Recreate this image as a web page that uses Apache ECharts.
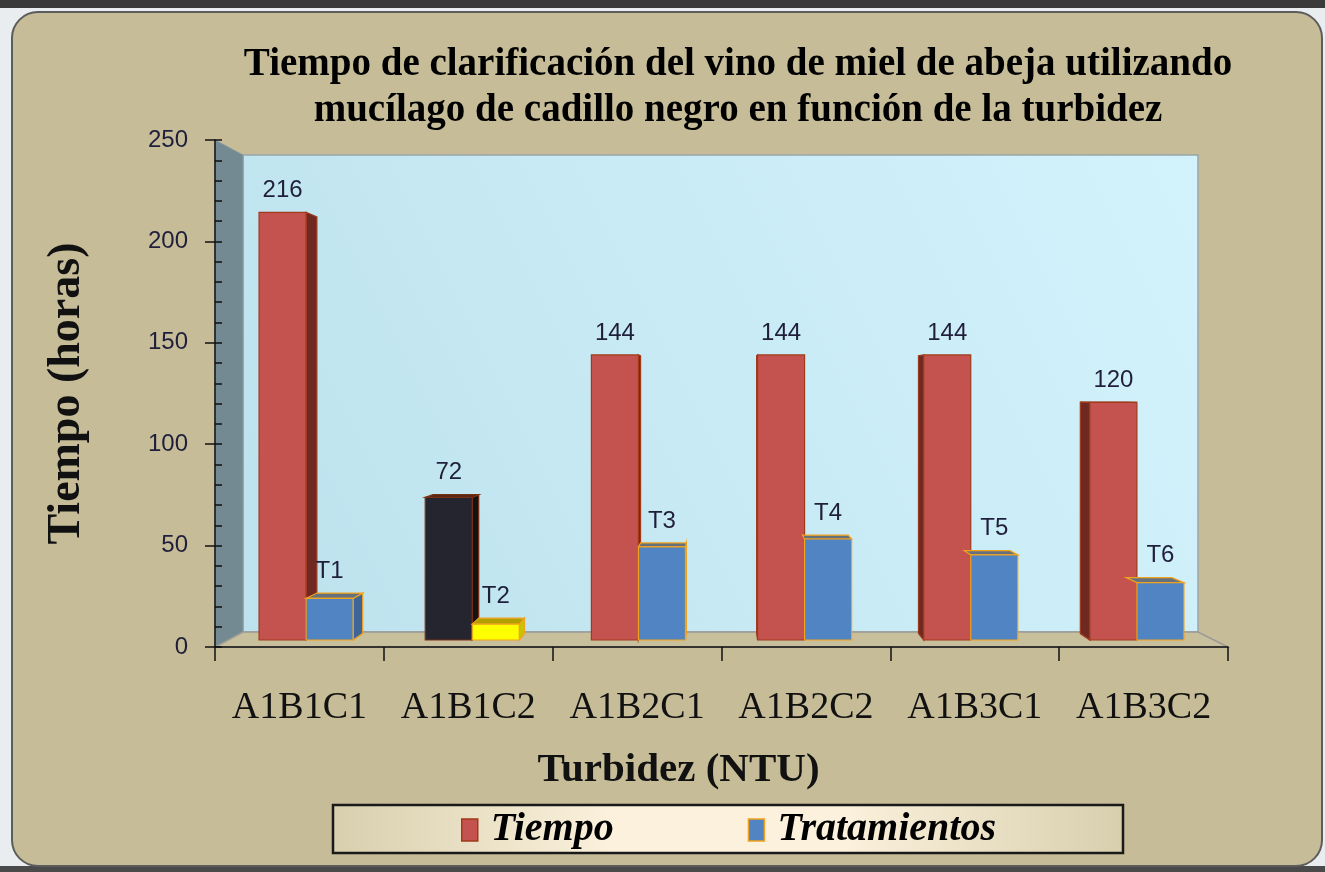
<!DOCTYPE html>
<html>
<head>
<meta charset="utf-8">
<script src="https://cdn.jsdelivr.net/npm/echarts@6/dist/echarts.min.js"></script>
<style>
  html, body { margin: 0; padding: 0; background: #e9edef; }
  #grafico { width: 1325px; height: 872px; }
</style>
</head>
<body>
<div id="grafico"></div>
<script>
// datos
const categorias = ['A1B1C1', 'A1B1C2', 'A1B2C1', 'A1B2C2', 'A1B3C1', 'A1B3C2']
const tiempo = [216, 72, 144, 144, 144, 120]
const tratamientos = [21, 8, 47, 51, 43, 29]
const etiquetasTrat = ['T1', 'T2', 'T3', 'T4', 'T5', 'T6']
const ejeY = { min: 0, max: 250, interval: 50 }

// colores de las caras (frente, lado, tapa, borde)
const colTiempo = { front: '#c4524e', side: '#6e2a22', top: '#8a3424', border: '#a03a1a' }
const colTiempoEsp = { front: '#25252f', side: '#121218', top: '#4a2418', border: '#7a3010' }
const colTrat = { front: '#5084c2', side: '#3e6596', top: '#66717e', border: '#f2a21c' }
const colTratEsp = { front: '#ffff00', side: '#c9c400', top: '#b0a000', border: '#f2a21c' }
const indiceEsp = 1

const serif = '"Liberation Serif", "Times New Roman", serif'
const sans = '"Liberation Sans", Arial, sans-serif'

const chart = echarts.init(document.getElementById('grafico'))

// barra en 3D con perspectiva hacia el centro del area
const renderBarra = (params, api) => {
  const i = api.value(0)
  const v = api.value(1)
  const esTiempo = params.seriesName === 'Tiempo'
  const base = api.coord([i, 0])
  const tope = api.coord([i, v])
  const banda = api.size([1, 0])[0]
  const w = banda * 0.283
  const cs = params.coordSys
  const vx = cs.x + cs.width / 2
  const vy = cs.y + cs.height / 2
  const k = 0.026
  const bx = (x) => x + (vx - x) * k
  const by = (y) => y + (vy - y) * k
  const x0 = esTiempo ? base[0] - w : base[0]
  const x1 = x0 + w
  const yT = tope[1]
  const yB = base[1]
  let c
  if (esTiempo) c = i === indiceEsp ? colTiempoEsp : colTiempo
  else c = i === indiceEsp ? colTratEsp : colTrat

  const hijos = []
  const borde = { stroke: c.border, lineWidth: 1.2 }
  if (x1 < vx) {
    hijos.push({ type: 'polygon', shape: { points: [[x1, yT], [bx(x1), by(yT)], [bx(x1), by(yB)], [x1, yB]] },
      style: Object.assign({ fill: c.side }, borde) })
  }
  if (esTiempo && x0 > vx) {
    hijos.push({ type: 'polygon', shape: { points: [[x0, yT], [bx(x0), by(yT)], [bx(x0), by(yB)], [x0, yB]] },
      style: Object.assign({ fill: c.side }, borde) })
  }
  if (yT > vy) {
    hijos.push({ type: 'polygon', shape: { points: [[x0, yT], [x1, yT], [bx(x1), by(yT)], [bx(x0), by(yT)]] },
      style: Object.assign({ fill: c.top }, borde) })
  }
  hijos.push({ type: 'rect', shape: { x: x0, y: yT, width: w, height: yB - yT },
    style: Object.assign({ fill: c.front }, borde) })
  hijos.push({ type: 'text', x: (x0 + x1) / 2, y: Math.min(yT, by(yT)) - 10,
    style: { text: esTiempo ? String(v) : etiquetasTrat[i], align: 'center', verticalAlign: 'bottom',
      font: '24px ' + sans, fill: '#1f1f3c' } })
  return { type: 'group', children: hijos }
}

chart.setOption({
  animation: false,
  backgroundColor: '#e9edef',
  title: {
    text: 'Tiempo de clarificación del vino de miel de abeja utilizando\nmucílago de cadillo negro en función de la turbidez',
    left: 738,
    top: 42,
    padding: 0,
    textAlign: 'center',
    textStyle: { fontFamily: serif, fontWeight: 'bold', fontSize: 39, lineHeight: 46, color: '#000' }
  },
  graphic: [
    { type: 'rect', z: -20, shape: { x: 0, y: 0, width: 1325, height: 8 }, style: { fill: '#3a3a3a' } },
    { type: 'rect', z: -20, shape: { x: 0, y: 866, width: 1325, height: 6 }, style: { fill: '#4a4a4a' } },
    { type: 'rect', z: -19, shape: { x: 12, y: 12, width: 1310, height: 854, r: 26 },
      style: { fill: '#c6bd98', stroke: '#5c5c5c', lineWidth: 2 } },
    // pared del fondo
    { type: 'rect', z: -18, shape: { x: 243, y: 155, width: 955, height: 477 },
      style: { fill: new echarts.graphic.LinearGradient(0, 1, 1, 0, [
        { offset: 0, color: '#bde2ed' }, { offset: 1, color: '#d3f3fc' }]), stroke: '#9aa4a8', lineWidth: 1.5 } },
    // pared izquierda
    { type: 'polygon', z: -18, shape: { points: [[215, 140], [243, 155], [243, 632], [215, 647]] },
      style: { fill: '#738a93', stroke: '#8a9aa0', lineWidth: 1 } },
    // piso
    { type: 'polygon', z: -18, shape: { points: [[215, 647], [243, 632], [1198, 632], [1228, 647]] },
      style: { fill: '#c8bf9c', stroke: '#9a9a96', lineWidth: 1.5 } },
    // caja de la leyenda
    { type: 'rect', z: -17, shape: { x: 333, y: 805, width: 790, height: 48 },
      style: { fill: new echarts.graphic.LinearGradient(0, 0, 1, 0, [
        { offset: 0, color: '#d8cfae' }, { offset: 0.35, color: '#fbf1dc' },
        { offset: 0.65, color: '#fbf1dc' }, { offset: 1, color: '#d8cfae' }]), stroke: '#1a1a1a', lineWidth: 2.5 } }
  ],
  legend: {
    left: 461,
    top: 810,
    padding: 0,
    itemWidth: 16,
    itemHeight: 22,
    itemGap: 134,
    textStyle: { fontFamily: serif, fontStyle: 'italic', fontWeight: 'bold', fontSize: 40, color: '#000', padding: [0, 0, 0, 8] },
    data: [
      { name: 'Tiempo', icon: 'rect', itemStyle: { color: colTiempo.front, borderColor: colTiempo.border, borderWidth: 1.5 } },
      { name: 'Tratamientos', icon: 'rect', itemStyle: { color: colTrat.front, borderColor: colTrat.border, borderWidth: 1.5 } }
    ]
  },
  grid: [
    { left: 215, top: 140, width: 1013, height: 507 },
    { left: 223, top: 145, width: 997, height: 495 }
  ],
  xAxis: [
    {
      gridIndex: 0, type: 'category', data: categorias, z: 5,
      axisLine: { lineStyle: { color: '#111', width: 1.5 } },
      axisTick: { show: true, interval: 0, length: 14, lineStyle: { color: '#111', width: 1.5 } },
      axisLabel: { interval: 0, hideOverlap: false, margin: 42, fontFamily: serif, fontSize: 38, color: '#111' },
      name: 'Turbidez (NTU)', nameLocation: 'middle', nameGap: 103,
      nameTextStyle: { fontFamily: serif, fontWeight: 'bold', fontSize: 41, color: '#111', padding: [0, 86, 0, 0] }
    },
    { gridIndex: 1, type: 'category', data: categorias, show: false }
  ],
  yAxis: [
    {
      gridIndex: 0, type: 'value', min: ejeY.min, max: ejeY.max, interval: ejeY.interval, z: 5,
      axisLine: { show: true, lineStyle: { color: '#111', width: 1.5 } },
      axisTick: { show: true, length: 10, lineStyle: { color: '#111', width: 1.5 } },
      axisLabel: { margin: 27, fontFamily: sans, fontSize: 24, color: '#1f1f3c' },
      splitLine: { show: false },
      name: 'Tiempo (horas)', nameLocation: 'middle', nameRotate: 90, nameGap: 125,
      nameTextStyle: { fontFamily: serif, fontWeight: 'bold', fontSize: 46, color: '#111' }
    },
    {
      gridIndex: 0, type: 'value', position: 'left', min: ejeY.min, max: ejeY.max, interval: ejeY.interval, z: 5,
      axisLine: { show: false },
      axisTick: { show: true, inside: true, length: 7, lineStyle: { color: '#111', width: 1.5 } },
      minorTick: { show: true, splitNumber: 5, length: 7, lineStyle: { color: '#111', width: 1.5 } },
      axisLabel: { show: false },
      splitLine: { show: false }
    },
    { gridIndex: 1, type: 'value', min: ejeY.min, max: ejeY.max, show: false }
  ],
  series: [
    {
      type: 'custom', name: 'Tiempo', xAxisIndex: 1, yAxisIndex: 2,
      itemStyle: { color: colTiempo.front },
      renderItem: renderBarra,
      data: tiempo.map((v, i) => [i, v])
    },
    {
      type: 'custom', name: 'Tratamientos', xAxisIndex: 1, yAxisIndex: 2,
      itemStyle: { color: colTrat.front },
      renderItem: renderBarra,
      data: tratamientos.map((v, i) => [i, v])
    }
  ]
})
</script>
</body>
</html>
